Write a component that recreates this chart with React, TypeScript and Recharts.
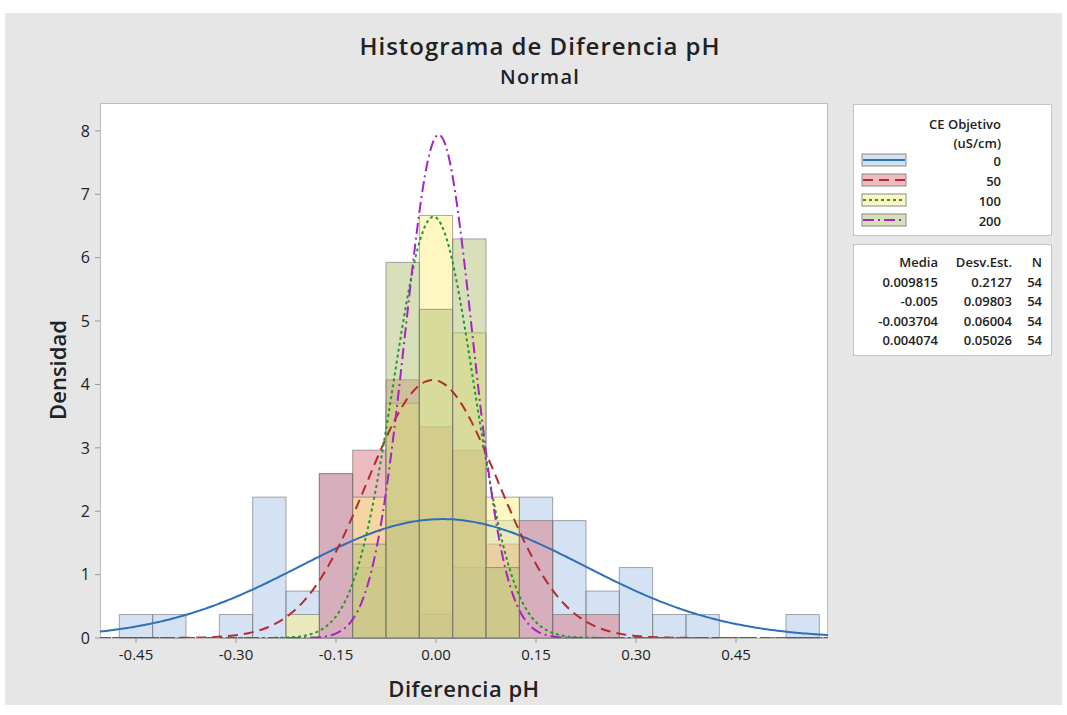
import { ComposedChart, Line, XAxis, YAxis, ReferenceArea } from 'recharts'

// histograma de Diferencia pH por CE Objetivo, con ajuste normal
const binCenters = [-0.45, -0.4, -0.35, -0.3, -0.25, -0.2, -0.15, -0.1, -0.05, 0, 0.05, 0.1, 0.15, 0.2, 0.25, 0.3, 0.35, 0.4, 0.45, 0.5, 0.55]
const binWidth = 0.05
const counts0 = [1, 1, 0, 1, 6, 2, 7, 3, 5, 1, 3, 5, 6, 5, 2, 3, 1, 1, 0, 0, 1]
const counts50 = [0, 0, 0, 0, 0, 0, 7, 8, 11, 9, 8, 4, 5, 1, 1, 0, 0, 0, 0, 0, 0]
const counts100 = [0, 0, 0, 0, 0, 1, 0, 6, 10, 18, 13, 6, 0, 0, 0, 0, 0, 0, 0, 0, 0]
const counts200 = [0, 0, 0, 0, 0, 0, 0, 4, 16, 14, 17, 3, 0, 0, 0, 0, 0, 0, 0, 0, 0]

const groups = ['0', '50', '100', '200']
const means = [0.009815, -0.005, -0.003704, 0.004074]
const sds = [0.2127, 0.09803, 0.06004, 0.05026]
const ns = [54, 54, 54, 54]
const meanLabels = ['0.009815', '-0.005', '-0.003704', '0.004074']
const sdLabels = ['0.2127', '0.09803', '0.06004', '0.05026']

const xTicks = [-0.45, -0.3, -0.15, 0, 0.15, 0.3, 0.45]
const yTicks = [0, 1, 2, 3, 4, 5, 6, 7, 8]
const xDomain = [-0.504, 0.588]
const yDomain = [0, 8.44]

const allCounts = [counts0, counts50, counts100, counts200]
const fills = ['#a9c5e8', '#d97a84', '#fdf083', '#b2c275']
const lineColors = ['#2f6fba', '#b22d2d', '#1e9a2e', '#a326c4']
const dashes = ['', '10 6', '3 3', '11 4 2 4']

// curvas normales ajustadas con Media / Desv.Est. de la leyenda
const curveData: Record<string, number>[] = []
for (let x = xDomain[0]; x <= xDomain[1] + 1e-9; x += 0.004) {
  const row: Record<string, number> = { x }
  groups.forEach((g, i) => {
    const z = (x - means[i]) / sds[i]
    row['g' + g] = Math.exp(-0.5 * z * z) / (sds[i] * Math.sqrt(2 * Math.PI))
  })
  curveData.push(row)
}

const font = '"Open Sans", "Noto Sans", sans-serif'

function Swatch({ i }: { i: number }) {
  return (
    <svg width={46} height={14} style={{ display: 'block' }}>
      <rect x={1} y={1} width={44} height={12} fill={fills[i]} fillOpacity={0.5} stroke="#8a8a8a" />
      <line x1={2} x2={44} y1={7} y2={7} stroke={lineColors[i]} strokeWidth={2} strokeDasharray={dashes[i]} />
    </svg>
  )
}

export default function App() {
  return (
    <div style={{ position: 'absolute', left: 0, top: 0, width: 1067, height: 715, background: '#fff', fontFamily: font, color: '#222' }}>
      <div style={{ position: 'absolute', left: 5, top: 13, width: 1057, height: 692, background: '#e6e6e6' }} />
      <div style={{ position: 'absolute', left: 0, width: 1080, top: 29, textAlign: 'center', fontSize: 24, fontWeight: 600, letterSpacing: 1 }}>
        Histograma de Diferencia pH
      </div>
      <div style={{ position: 'absolute', left: 0, width: 1080, top: 63, textAlign: 'center', fontSize: 20, fontWeight: 600, letterSpacing: 1.2 }}>
        Normal
      </div>
      <div style={{ position: 'absolute', left: 100, top: 103, width: 728, height: 536, background: '#fff', border: '1px solid #bdbdbd', boxSizing: 'border-box' }} />
      <div style={{ position: 'absolute', left: 57, top: 370, transform: 'translate(-50%, -50%) rotate(-90deg)', fontSize: 22, fontWeight: 600, whiteSpace: 'nowrap' }}>
        Densidad
      </div>
      <div style={{ position: 'absolute', left: 464, top: 688, transform: 'translate(-50%, -50%)', fontSize: 22, fontWeight: 600, whiteSpace: 'nowrap', letterSpacing: 0.5 }}>
        Diferencia pH
      </div>

      <div style={{ position: 'absolute', left: 0, top: 0 }}>
        <ComposedChart width={1067} height={715} data={curveData} margin={{ top: 103, right: 239, bottom: 47, left: 50 }}>
          <XAxis
            dataKey="x"
            type="number"
            domain={xDomain}
            ticks={xTicks}
            tickFormatter={(v: number) => v.toFixed(2)}
            axisLine={false}
            tickLine={{ stroke: '#999' }}
            tickSize={5}
            tickMargin={6}
            tick={{ fill: '#222', fontSize: 15, fontFamily: font }}
            height={30}
            allowDataOverflow
          />
          <YAxis
            type="number"
            domain={yDomain}
            ticks={yTicks}
            axisLine={false}
            tickLine={{ stroke: '#999' }}
            tickSize={5}
            tickMargin={5}
            tick={{ fill: '#222', fontSize: 16, fontFamily: font }}
            width={50}
            allowDataOverflow
          />
          {allCounts.map((cs, i) =>
            binCenters.map((c, j) =>
              cs[j] > 0 ? (
                <ReferenceArea
                  key={`b${i}-${j}`}
                  x1={c - binWidth / 2}
                  x2={c + binWidth / 2}
                  y1={0}
                  y2={cs[j] / (ns[i] * binWidth)}
                  fill={fills[i]}
                  fillOpacity={0.5}
                  stroke="#6e6e6e"
                  strokeOpacity={0.6}
                  strokeWidth={1}
                  ifOverflow="visible"
                />
              ) : null
            )
          )}
          {groups.map((g, i) => (
            <Line
              key={g}
              dataKey={'g' + g}
              type="monotone"
              dot={false}
              stroke={lineColors[i]}
              strokeWidth={2}
              strokeDasharray={dashes[i] || undefined}
              isAnimationActive={false}
            />
          ))}
        </ComposedChart>
      </div>

      <div style={{ position: 'absolute', left: 853, top: 104, width: 199, height: 132, background: '#fff', border: '1px solid #c4c4c4', boxSizing: 'border-box', fontSize: 13, fontWeight: 600 }}>
        <div style={{ position: 'absolute', right: 50, top: 10, textAlign: 'right', lineHeight: '19px' }}>
          CE Objetivo
          <br />
          (uS/cm)
        </div>
        {groups.map((g, i) => (
          <div key={g} style={{ position: 'absolute', left: 7, top: 48 + i * 20, width: 140, height: 16 }}>
            <Swatch i={i} />
            <div style={{ position: 'absolute', right: 0, top: -1 }}>{g}</div>
          </div>
        ))}
      </div>

      <div style={{ position: 'absolute', left: 853, top: 244, width: 199, height: 112, background: '#fff', border: '1px solid #c4c4c4', boxSizing: 'border-box', fontSize: 13, fontWeight: 600 }}>
        {['Media', ...meanLabels].map((t, r) => (
          <div key={'m' + r} style={{ position: 'absolute', right: 113, top: 8 + r * 19.5 }}>{t}</div>
        ))}
        {['Desv.Est.', ...sdLabels].map((t, r) => (
          <div key={'s' + r} style={{ position: 'absolute', right: 39, top: 8 + r * 19.5 }}>{t}</div>
        ))}
        {['N', ...ns.map(String)].map((t, r) => (
          <div key={'n' + r} style={{ position: 'absolute', right: 9, top: 8 + r * 19.5 }}>{t}</div>
        ))}
      </div>
    </div>
  )
}
